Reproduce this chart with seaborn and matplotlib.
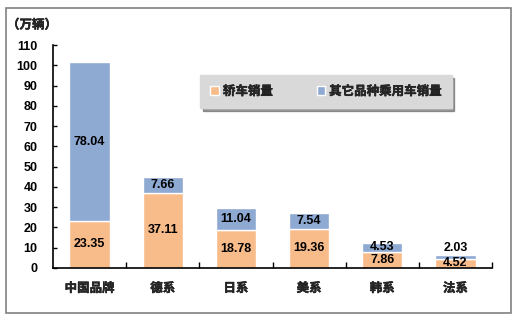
import matplotlib
matplotlib.use("Agg")
import matplotlib.pyplot as plt
import matplotlib.patheffects as pe
import seaborn as sns
import pandas as pd
from matplotlib.patches import Patch, Rectangle

categories = ["中国品牌", "德系", "日系", "美系", "韩系", "法系"]
sedan = [23.35, 37.11, 18.78, 19.36, 7.86, 4.52]
other = [78.04, 7.66, 11.04, 7.54, 4.53, 2.03]
series_names = ["轿车销量", "其它品种乘用车销量"]
y_ticks = [0, 10, 20, 30, 40, 50, 60, 70, 80, 90, 100, 110]
unit_label = "（万辆）"

sns.set_theme(style="white")
plt.rcParams["font.family"] = ["Liberation Sans", "Noto Sans CJK SC", "DejaVu Sans"]
plt.rcParams["font.weight"] = "bold"

c_sedan = "#F8BB8A"
c_other = "#8EA9D2"
bold_fx = [pe.withStroke(linewidth=0.3, foreground="black")]

fig = plt.figure(figsize=(5.19, 3.22), dpi=100)
ax = fig.add_axes([53 / 519, 1 - 268 / 322, (492 - 53) / 519, (268 - 45) / 322])

df = pd.DataFrame({"cat": categories, "sedan": sedan, "other": other})
sns.barplot(data=df, x="cat", y="sedan", color=c_sedan, saturation=1, width=0.55,
            edgecolor="white", linewidth=1, ax=ax)
sns.barplot(data=df, x="cat", y="other", bottom=df["sedan"], color=c_other, saturation=1,
            width=0.55, edgecolor="white", linewidth=1, ax=ax)

ax.set_ylim(0, 110)
ax.set_xlim(-0.5, len(categories) - 0.5)
ax.set_yticks(y_ticks)
ax.set_xlabel("")
ax.set_ylabel("")
for s in ["top", "right"]:
    ax.spines[s].set_visible(False)
for s in ["left", "bottom"]:
    ax.spines[s].set_color("black")
    ax.spines[s].set_linewidth(1.2)

ax.tick_params(axis="y", direction="in", length=3, width=1, colors="black",
               pad=11, labelsize=9, left=True)
ax.set_xticks(range(len(categories)))
ax.set_xticklabels(categories, fontsize=9, fontweight="bold",
                   family=["Noto Sans CJK SC", "DejaVu Sans"])
for lab in ax.get_xticklabels():
    lab.set_path_effects(bold_fx)
ax.tick_params(axis="x", length=0, pad=10)
ax.set_xticks([i + 0.5 for i in range(len(categories))], minor=True)
ax.tick_params(axis="x", which="minor", direction="in", length=4, width=1, color="black", bottom=True)
for lab in ax.get_yticklabels():
    lab.set_fontweight("bold")

for i, (s, o) in enumerate(zip(sedan, other)):
    ax.text(i, s / 2, f"{s:.2f}", ha="center", va="center", fontsize=9, fontweight="bold", color="black")
    if o < 3:
        ax.text(i, s + o + 0.3, f"{o:.2f}", ha="center", va="bottom", fontsize=9, fontweight="bold", color="black")
    else:
        ax.text(i, s + o / 2, f"{o:.2f}", ha="center", va="center", fontsize=9, fontweight="bold", color="black")

fig.text(32 / 519, 1 - 25 / 322, unit_label, ha="center", va="center", fontsize=9,
         fontweight="bold", family=["Noto Sans CJK SC", "DejaVu Sans"], path_effects=bold_fx)

handles = [Patch(facecolor=c_sedan, edgecolor="white", linewidth=1),
           Patch(facecolor=c_other, edgecolor="white", linewidth=1)]
leg = ax.legend(handles, series_names, loc="center", bbox_to_anchor=(326 / 519, 1 - 91.5 / 322),
                bbox_transform=fig.transFigure, ncol=2, frameon=True, fancybox=False, shadow=True,
                facecolor="#D9D9D9", edgecolor="#D9D9D9", handlelength=0.7, handleheight=0.7,
                handletextpad=0.3, columnspacing=3.5, borderpad=0.8,
                prop={"family": ["Noto Sans CJK SC", "DejaVu Sans"], "weight": "bold", "size": 9})
leg.get_frame().set_alpha(1)
for t in leg.get_texts():
    t.set_path_effects(bold_fx)

fig.add_artist(Rectangle((6 / 519, 1 - 313 / 322), (511 - 6) / 519, (313 - 8) / 322,
                         transform=fig.transFigure, fill=False, edgecolor="#808080", linewidth=1.2))

fig.savefig("out.png", dpi=100)
